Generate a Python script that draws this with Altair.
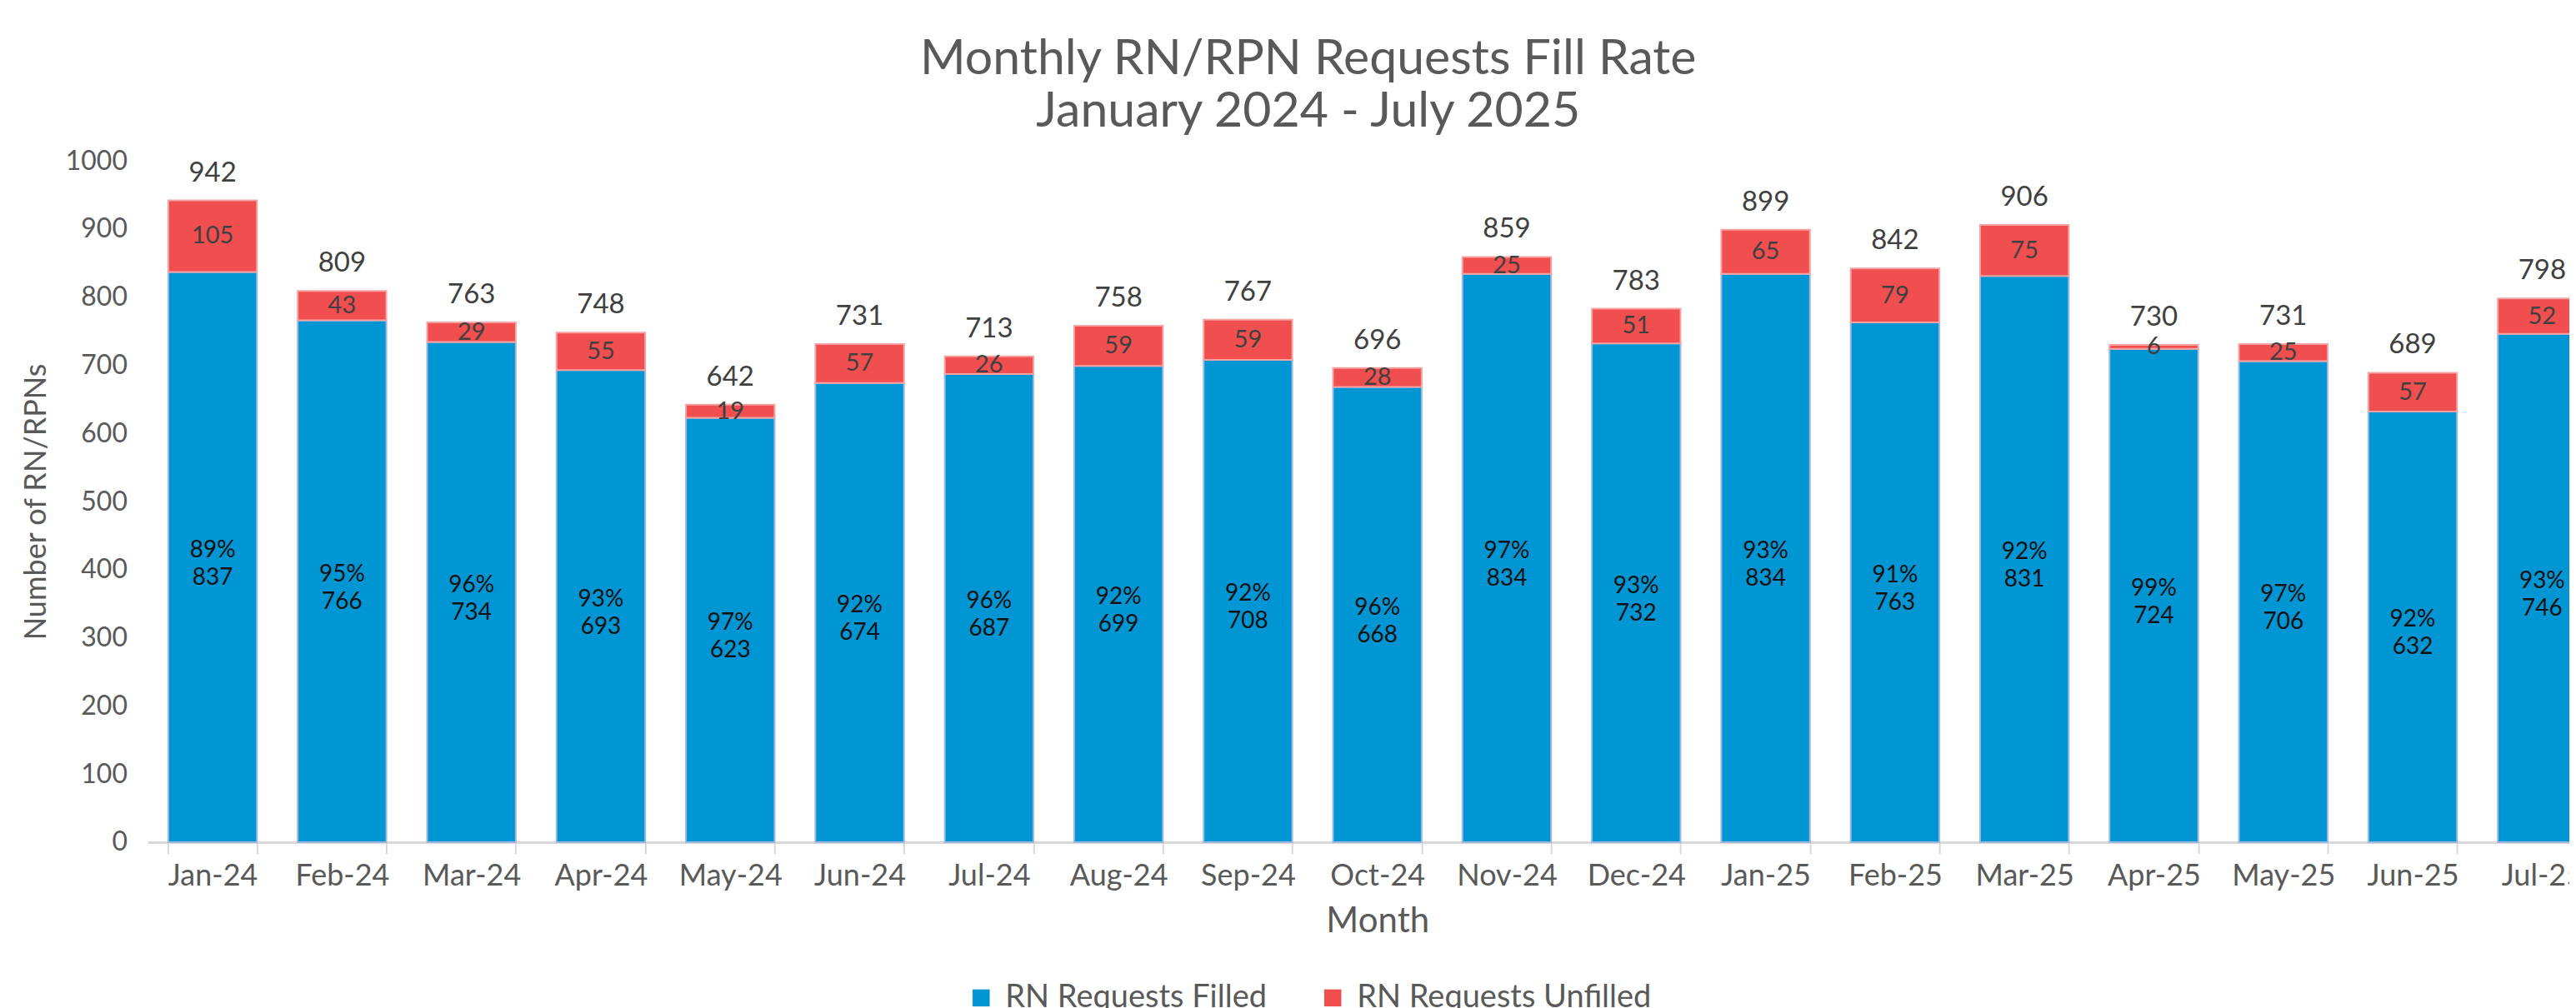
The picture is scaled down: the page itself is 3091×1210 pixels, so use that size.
import altair as alt
import pandas as pd

months = ["Jan-24", "Feb-24", "Mar-24", "Apr-24", "May-24", "Jun-24", "Jul-24", "Aug-24",
          "Sep-24", "Oct-24", "Nov-24", "Dec-24", "Jan-25", "Feb-25", "Mar-25", "Apr-25",
          "May-25", "Jun-25", "Jul-25"]
filled = [837, 766, 734, 693, 623, 674, 687, 699, 708, 668, 834, 732, 834, 763, 831, 724, 706, 632, 746]
unfilled = [105, 43, 29, 55, 19, 57, 26, 59, 59, 28, 25, 51, 65, 79, 75, 6, 25, 57, 52]
totals = [942, 809, 763, 748, 642, 731, 713, 758, 767, 696, 859, 783, 899, 842, 906, 730, 731, 689, 798]
pct_labels = ["89%", "95%", "96%", "93%", "97%", "92%", "96%", "92%", "92%", "96%", "97%", "93%",
              "93%", "91%", "92%", "99%", "97%", "92%", "93%"]
series = ["RN Requests Filled", "RN Requests Unfilled"]
colors = ["#0095D3", "#F04E4F"]

FONT = "Lato"
GRAY = "#595959"

rows = []
for i, m in enumerate(months):
    rows.append({"month": m, "series": series[0], "y0": 0, "y1": filled[i]})
    rows.append({"month": m, "series": series[1], "y0": filled[i], "y1": totals[i]})
bars_df = pd.DataFrame(rows)

lab_df = pd.DataFrame({
    "month": months,
    "filled": filled,
    "unfilled": unfilled,
    "total": totals,
    "fmid": [f / 2 for f in filled],
    "umid": [f + u / 2 for f, u in zip(filled, unfilled)],
    "inner": [p + "\n" + str(f) for p, f in zip(pct_labels, filled)],
})

xaxis = alt.Axis(labelFont=FONT, labelFontSize=36, labelColor=GRAY, labelAngle=0,
                 labelPadding=10, tickBand="extent", tickSize=14, tickColor="#D9D9D9",
                 tickWidth=2, domainColor="#D9D9D9", domainWidth=3,
                 titleFont=FONT, titleFontSize=42, titleColor=GRAY, titleFontWeight="normal",
                 titleY=95, titleBaseline="middle")
xscale = alt.Scale(paddingInner=0.315, paddingOuter=0.1575)
yaxis = alt.Axis(values=list(range(0, 1001, 100)), format="d", grid=False, domain=False, ticks=False,
                 labelFont=FONT, labelFontSize=32, labelColor=GRAY, labelPadding=25,
                 titleFont=FONT, titleFontSize=36, titleColor=GRAY, titleFontWeight="normal",
                 titleX=-134, titleBaseline="middle")
yscale = alt.Scale(domain=[0, 1000], nice=False)
YT = "Number of RN/RPNs"
XT = "Month"


def xenc():
    return alt.X("month:N", sort=months, title=XT, scale=xscale, axis=xaxis)


bars = alt.Chart(bars_df).mark_bar(strokeWidth=2).encode(
    x=xenc(),
    y=alt.Y("y0:Q", scale=yscale, title=YT, axis=yaxis),
    y2="y1:Q",
    color=alt.Color("series:N", scale=alt.Scale(domain=series, range=colors),
                    legend=alt.Legend(title=None, orient="none", direction="horizontal",
                                      legendX=981, legendY=986, symbolType="square", symbolSize=420,
                                      symbolStrokeWidth=0, labelFont=FONT, labelFontSize=38,
                                      labelColor=GRAY, labelOffset=10, columnPadding=60,
                                      labelLimit=1000)),
    stroke=alt.Stroke("series:N", scale=alt.Scale(domain=series, range=["#9DB8E3", "#F7A3A3"]), legend=None),
)

total_text = alt.Chart(lab_df).mark_text(font=FONT, fontSize=33, color="#404040", baseline="bottom", dy=-16).encode(
    x=xenc(), y=alt.Y("total:Q", scale=yscale, title=YT, axis=yaxis), text="total:Q")

unf_text = alt.Chart(lab_df).mark_text(font=FONT, fontSize=29, color="#404040", baseline="middle").encode(
    x=xenc(), y=alt.Y("umid:Q", scale=yscale, title=YT, axis=yaxis), text="unfilled:Q")

inner_text = alt.Chart(lab_df).mark_text(font=FONT, fontSize=28, color="#111111", baseline="middle",
                                          lineBreak="\n", lineHeight=33, dy=-8).encode(
    x=xenc(), y=alt.Y("fmid:Q", scale=yscale, title=YT, axis=yaxis), text="inner:N")

chart = alt.layer(bars, total_text, unf_text, inner_text).properties(
    width=2951, height=818,
    background="white",
    autosize=alt.AutoSizeParams(type="none"),
    padding={"left": 169.5, "top": 185, "right": -45, "bottom": 220},
    title=alt.TitleParams(text=["Monthly RN/RPN Requests Fill Rate", "January 2024 - July 2025"],
                          font=FONT, fontSize=59, color=GRAY, fontWeight="normal", anchor="middle",
                          dx=-83, offset=13, lineHeight=63),
).configure_view(stroke=None)

chart.save("out.html", embed_options={"renderer": "svg", "actions": False})
